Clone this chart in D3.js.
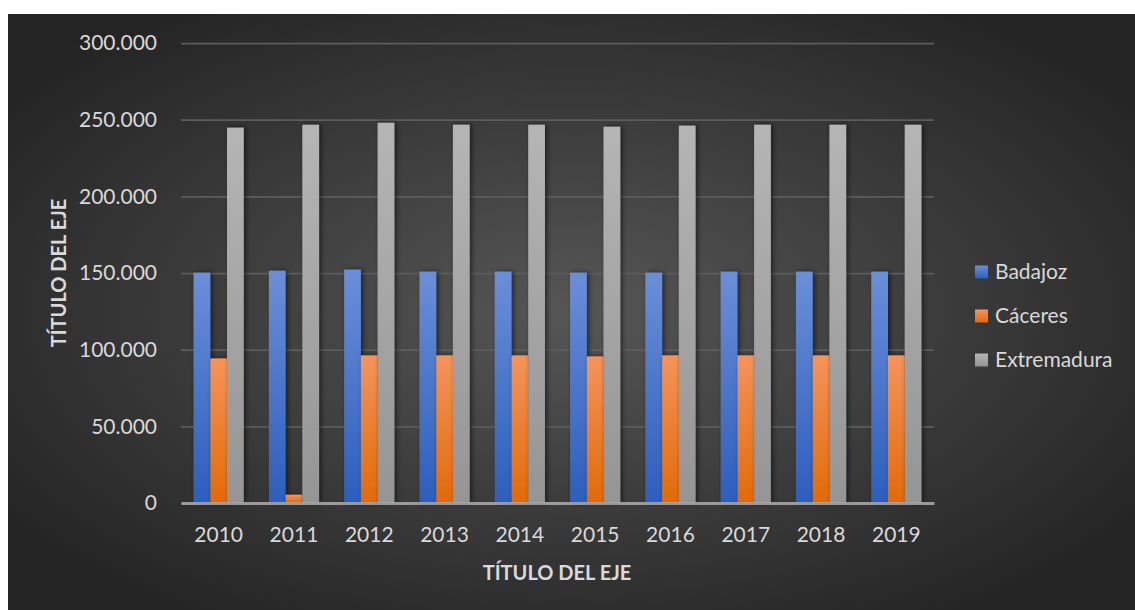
<!DOCTYPE html>
<html>
<head>
<meta charset="utf-8">
<script src="https://cdn.jsdelivr.net/npm/d3@7"></script>
<style>
  html, body { margin: 0; padding: 0; background: #ffffff; }
  svg { display: block; }
  text { font-family: Lato, "Open Sans", sans-serif; }
</style>
</head>
<body>
<svg id="chart" width="1135" height="610"></svg>
<script>
// Population by province, Extremadura
const years = ['2010', '2011', '2012', '2013', '2014', '2015', '2016', '2017', '2018', '2019'];
const seriesNames = ['Badajoz', 'Cáceres', 'Extremadura'];
const badajoz = [150200, 151500, 152200, 150900, 150900, 150200, 150200, 150900, 150900, 150900];
const caceres = [94300, 5400, 96300, 96300, 96300, 95600, 96300, 96300, 96300, 96300];
const extremadura = [244800, 246700, 248000, 246700, 246700, 245400, 246100, 246700, 246700, 246700];
const yTicks = [0, 50000, 100000, 150000, 200000, 250000, 300000];
const axisTitle = 'TÍTULO DEL EJE';

const seriesValues = [badajoz, caceres, extremadura];
const gradStops = [
  ['#6b8ed8', '#2c5ebd'],
  ['#f4945c', '#e26a08'],
  ['#b5b5b5', '#959595']
];

const svg = d3.select('#chart');
const defs = svg.append('defs');

// panel background
const bg = defs.append('radialGradient').attr('id', 'bg')
  .attr('cx', '50%').attr('cy', '50%').attr('r', '62%');
bg.append('stop').attr('offset', '0%').attr('stop-color', '#565656');
bg.append('stop').attr('offset', '100%').attr('stop-color', '#242424');

gradStops.forEach((s, i) => {
  const g = defs.append('linearGradient').attr('id', 'g' + i)
    .attr('x1', 0).attr('y1', 0).attr('x2', 0).attr('y2', 1);
  g.append('stop').attr('offset', '0%').attr('stop-color', s[0]);
  g.append('stop').attr('offset', '100%').attr('stop-color', s[1]);
});

const shadow = defs.append('filter').attr('id', 'shadow')
  .attr('x', '-50%').attr('y', '-10%').attr('width', '200%').attr('height', '120%');
shadow.append('feDropShadow').attr('dx', 2).attr('dy', 0).attr('stdDeviation', 2.5)
  .attr('flood-color', '#000').attr('flood-opacity', 0.55);

svg.append('rect').attr('x', 8).attr('y', 14).attr('width', 1127).attr('height', 596)
  .attr('fill', 'url(#bg)');

const plot = { left: 181, right: 934, top: 43, bottom: 503 };

const x = d3.scaleBand().domain(years).range([plot.left, plot.right]);
const step = x.bandwidth();
const barW = step / 4.5;
const x1 = d3.scaleBand().domain(seriesNames)
  .range([(step - 3 * barW) / 2, (step + 3 * barW) / 2]);
const y = d3.scaleLinear().domain([0, 300000]).range([plot.bottom, plot.top]);

const locale = d3.formatLocale({ decimal: ',', thousands: '.', grouping: [3], currency: ['', '€'] });
const fmt = locale.format(',d');

// gridlines
const yAxis = d3.axisLeft(y).tickValues(yTicks).tickFormat(fmt)
  .tickSize(-(plot.right - plot.left)).tickPadding(24);
const yg = svg.append('g').attr('transform', `translate(${plot.left},0)`).call(yAxis);
yg.select('.domain').remove();
yg.selectAll('.tick line').attr('stroke', '#5c5c5c').attr('stroke-width', 1.75);
yg.selectAll('.tick text').attr('fill', '#d9d9d9').attr('font-size', 21);

// bars
const rows = years.map((yr, i) => ({ year: yr, vals: seriesNames.map((n, k) => ({ name: n, k, v: seriesValues[k][i] })) }));
const groups = svg.append('g').selectAll('g').data(rows).join('g')
  .attr('transform', d => `translate(${x(d.year)},0)`);
groups.selectAll('rect').data(d => d.vals).join('rect')
  .attr('x', d => x1(d.name))
  .attr('width', barW)
  .attr('y', d => y(d.v))
  .attr('height', d => y(0) - y(d.v))
  .attr('fill', d => `url(#g${d.k})`)
  .attr('filter', 'url(#shadow)');

// baseline
const xAxis = d3.axisBottom(x).tickSize(0).tickPadding(24);
const xg = svg.append('g').attr('transform', `translate(0,${plot.bottom})`).call(xAxis);
xg.select('.domain').attr('stroke', '#a8a8a8').attr('stroke-width', 3).attr('stroke-opacity', 0.85);
xg.selectAll('.tick text').attr('fill', '#d9d9d9').attr('font-size', 21);

// axis titles
svg.append('text').attr('x', 557).attr('y', 580)
  .attr('text-anchor', 'middle').attr('fill', '#d9d9d9')
  .attr('font-size', 20).attr('font-weight', 'bold').text(axisTitle);
svg.append('text').attr('transform', `translate(66,${(plot.top + plot.bottom) / 2}) rotate(-90)`)
  .attr('text-anchor', 'middle').attr('fill', '#d9d9d9')
  .attr('font-size', 20).attr('font-weight', 'bold').text(axisTitle);

// legend
const legend = svg.append('g').attr('transform', 'translate(975,272)');
const items = legend.selectAll('g').data(seriesNames).join('g')
  .attr('transform', (d, i) => `translate(0,${i * 44})`);
items.append('rect').attr('x', 0).attr('y', -6.5).attr('width', 13).attr('height', 13)
  .attr('fill', (d, i) => `url(#g${i})`);
items.append('text').attr('x', 20).attr('y', 0).attr('dy', '0.35em')
  .attr('fill', '#d9d9d9').attr('font-size', 21).text(d => d);
</script>
</body>
</html>
